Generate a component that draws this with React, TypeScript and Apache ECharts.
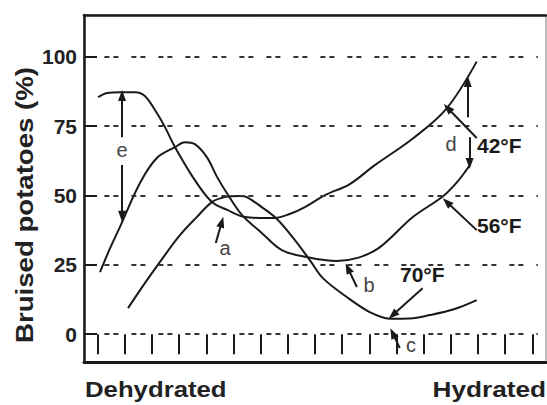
import React, { useEffect, useRef } from 'react';
import * as echarts from 'echarts';

// ---- data ----
const X_STEPS = ['0', '1', '2', '3', '4', '5', '6', '7', '8', '9', '10', '11', '12', '13', '14', '15', '16'];
const Y_TICKS = [0, 25, 50, 75, 100];
const X_END_LABELS = ['Dehydrated', 'Hydrated'];
const Y_TITLE = 'Bruised potatoes (%)';

const CURVE_42F: [number, number][] = [
  [0.02, 85.4], [0.35, 86.9], [0.82, 87.2], [1.38, 87.2], [1.74, 85.8], [2.18, 79.7],
  [2.48, 74.6], [2.85, 67.4], [3.58, 55.5], [4.21, 47.6], [4.79, 44.7], [5.42, 42.2],
  [5.97, 41.9], [6.52, 41.9], [7.07, 43.3], [7.63, 45.8], [8.37, 50.1], [9.28, 54.1],
  [10.2, 60.9], [11.6, 70.5], [12.84, 81.3], [13.95, 98.2],
];
const CURVE_56F: [number, number][] = [
  [0.09, 22.4], [0.46, 31.0], [0.82, 38.6], [1.56, 54.5], [2.18, 63.5], [2.85, 67.4],
  [3.21, 69.2], [3.58, 68.5], [4.02, 63.8], [4.4, 56.6], [4.76, 50.8], [5.31, 43.0],
  [6.04, 36.5], [6.78, 30.3], [7.7, 27.8], [8.8, 26.4], [9.6, 27.6], [10.38, 31.3],
  [11.6, 42.2], [12.7, 49.6], [13.21, 54.6], [13.58, 59.3], [13.69, 60.9],
];
const CURVE_70F: [number, number][] = [
  [1.12, 9.4], [1.74, 18.4], [2.29, 26.0], [3.03, 35.7], [3.65, 42.2], [4.21, 47.6],
  [4.68, 49.4], [5.24, 49.8], [5.49, 49.4], [6.04, 45.8], [6.6, 41.5], [7.26, 33.9],
  [7.81, 26.7], [8.29, 20.2], [9.17, 13.4], [10.01, 8.0], [10.75, 5.6], [11.49, 5.7],
  [12.22, 6.9], [13.14, 9.1], [13.95, 12.3],
];

// annotation arrows in data units: [x1, y1, x2 (head), y2 (head), curveness]
const ARROWS: [number, number, number, number, number][] = [
  [0.9, 71.0, 0.9, 86.0, 0],      // e up
  [0.9, 61.0, 0.9, 42.5, 0],      // e down
  [13.62, 78.2, 13.62, 91.0, 0],  // d up
  [13.69, 71.0, 13.69, 61.5, 0],  // d down
  [13.95, 70.7, 12.88, 81.5, 0],  // 42F
  [13.95, 37.5, 12.85, 47.6, 0],  // 56F
  [11.96, 16.6, 10.86, 6.9, 0],   // 70F
  [4.35, 32.9, 4.57, 40.4, 0.5],  // a
  [9.54, 17.0, 9.21, 23.8, 0.5],  // b
  [11.12, -5.0, 10.86, 0.4, 0.5], // c
];

const FONT = "'Liberation Sans', Arial, Helvetica, sans-serif";
const INK = '#1a1a1a';

export default function App() {
  const ref = useRef<HTMLDivElement>(null);
  useEffect(() => {
    if (!ref.current) return;
    const chart = echarts.init(ref.current, null, { renderer: 'svg' });

    const curve = (name: string, data: [number, number][]) => ({
      name,
      type: 'line',
      xAxisIndex: 1,
      yAxisIndex: 0,
      data,
      showSymbol: false,
      smooth: 0.35,
      lineStyle: { color: INK, width: 2 },
      z: 4,
      silent: true,
    });

    const option: any = {
      animation: false,
      backgroundColor: '#fff',
      grid: {
        left: 84, right: 1, top: 15, bottom: 43,
        show: true, borderColor: '#777', borderWidth: 1,
      },
      xAxis: [
        {
          // tick marks crossing the bottom axis line (shifted up 10px, length 20)
          type: 'category', data: X_STEPS, position: 'bottom', boundaryGap: true, offset: -10,
          axisLine: { show: false },
          axisTick: { show: true, alignWithLabel: true, inside: false, length: 20, lineStyle: { color: INK, width: 2 } },
          axisLabel: { show: false },
          splitLine: { show: false },
        },
        {
          type: 'value', position: 'top', min: -0.5, max: 16.5,
          axisLine: { show: true, onZero: false, lineStyle: { color: INK, width: 2.5 } },
          axisTick: { show: false }, axisLabel: { show: false }, splitLine: { show: false },
        },
        {
          type: 'value', position: 'bottom', min: -0.5, max: 16.5,
          axisLine: { show: true, onZero: false, lineStyle: { color: INK, width: 3 } },
          axisTick: { show: false }, axisLabel: { show: false }, splitLine: { show: false },
        },
      ],
      yAxis: {
        type: 'value', min: -10, max: 115,
        axisLine: { show: true, onZero: false, lineStyle: { color: INK, width: 2.5 } },
        axisTick: { show: true, inside: true, length: 13, customValues: Y_TICKS, lineStyle: { color: INK, width: 2 } },
        axisLabel: {
          show: true, customValues: Y_TICKS, margin: 7,
          fontFamily: FONT, fontWeight: 'bold', fontSize: 21, color: '#222',
        },
        splitLine: { show: false },
      },
      series: [
        {
          type: 'line', xAxisIndex: 1, yAxisIndex: 0, data: [], silent: true, z: 1,
          markLine: {
            silent: true, symbol: 'none', animation: false,
            label: { show: false },
            lineStyle: { color: '#333', width: 2, type: [5, 4, 5, 13] },
            data: Y_TICKS.map((y) => [
              { coord: [0.25, y], symbol: 'none' },
              { coord: [16.2, y], symbol: 'none' },
            ]),
          },
        },
        curve('42°F', CURVE_42F),
        curve('56°F', CURVE_56F),
        curve('70°F', CURVE_70F),
        {
          type: 'line', xAxisIndex: 1, yAxisIndex: 0, data: [], silent: true, z: 5,
          markLine: {
            silent: true, animation: false,
            label: { show: false },
            lineStyle: { color: INK, width: 2, type: 'solid' },
            data: ARROWS.map(([x1, y1, x2, y2, c]) => [
              { coord: [x1, y1], symbol: 'none', symbolSize: 0, lineStyle: { curveness: c } },
              { coord: [x2, y2], symbol: 'triangle', symbolSize: [8, 11], lineStyle: { curveness: c } },
            ]),
          },
        },
      ],
      graphic: [
        {
          type: 'text', x: 25, y: 205, rotation: Math.PI / 2, scaleX: 1.2,
          style: { text: Y_TITLE, font: `bold 23px ${FONT}`, fill: '#222', align: 'center', verticalAlign: 'middle' },
        },
        {
          type: 'text', x: 85, y: 389, scaleX: 1.17,
          style: { text: X_END_LABELS[0], font: `bold 22px ${FONT}`, fill: '#222', align: 'left', verticalAlign: 'middle' },
        },
        {
          type: 'text', x: 546, y: 389, scaleX: 1.19,
          style: { text: X_END_LABELS[1], font: `bold 22px ${FONT}`, fill: '#222', align: 'right', verticalAlign: 'middle' },
        },
        { type: 'text', x: 477, y: 145, style: { text: '42°F', font: `bold 21px ${FONT}`, fill: INK, align: 'left', verticalAlign: 'middle' } },
        { type: 'text', x: 477, y: 225, style: { text: '56°F', font: `bold 21px ${FONT}`, fill: INK, align: 'left', verticalAlign: 'middle' } },
        { type: 'text', x: 400, y: 274, style: { text: '70°F', font: `bold 21px ${FONT}`, fill: INK, align: 'left', verticalAlign: 'middle' } },
        { type: 'text', x: 122, y: 150, style: { text: 'e', font: `20px ${FONT}`, fill: '#444', align: 'center', verticalAlign: 'middle' } },
        { type: 'text', x: 451, y: 144, style: { text: 'd', font: `20px ${FONT}`, fill: '#444', align: 'center', verticalAlign: 'middle' } },
        { type: 'text', x: 225, y: 248, style: { text: 'a', font: `20px ${FONT}`, fill: '#444', align: 'center', verticalAlign: 'middle' } },
        { type: 'text', x: 369, y: 285, style: { text: 'b', font: `20px ${FONT}`, fill: '#444', align: 'center', verticalAlign: 'middle' } },
        { type: 'text', x: 411, y: 345, style: { text: 'c', font: `20px ${FONT}`, fill: '#444', align: 'center', verticalAlign: 'middle' } },
      ],
    };

    chart.setOption(option);
    return () => chart.dispose();
  }, []);

  return (
    <div
      ref={ref}
      style={{ position: 'fixed', left: 0, top: 0, width: 547, height: 405, background: '#fff' }}
    />
  );
}
